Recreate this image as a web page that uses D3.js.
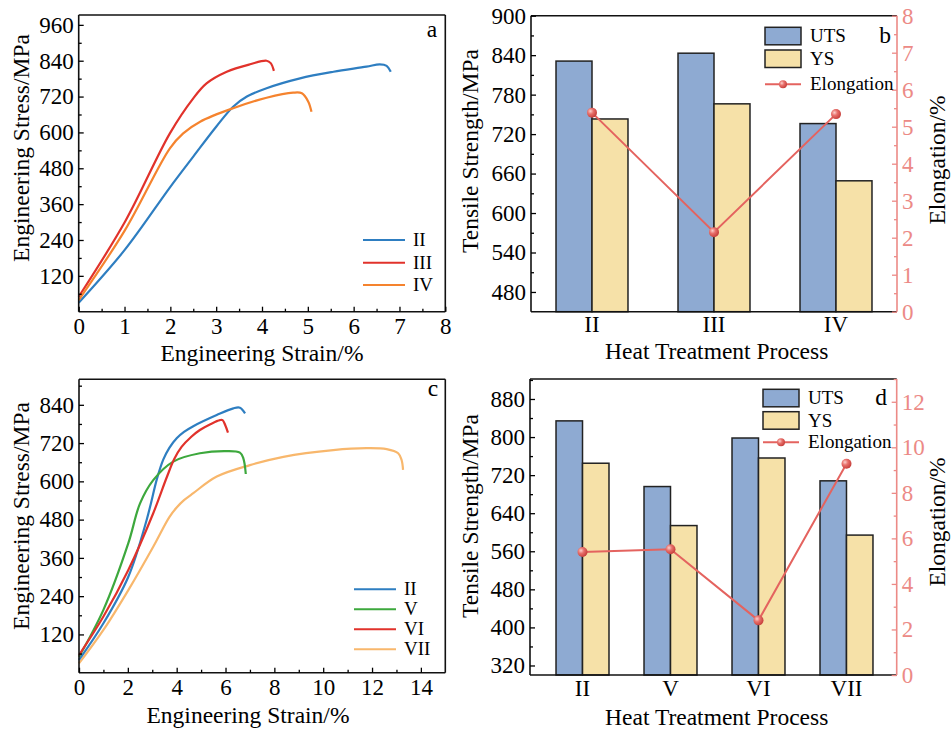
<!DOCTYPE html>
<html><head><meta charset="utf-8">
<script src="https://cdn.jsdelivr.net/npm/d3@7"></script>
<style>
body{margin:0;background:#fff}
svg{display:block}
text{font-family:"Liberation Serif","Times New Roman",serif;fill:#000}
</style></head>
<body>
<svg id="chart" width="952" height="731"></svg>
<script>
// ---------- DATA ----------
// Panel a: stress-strain curves [strain %, stress MPa]
const curveA_II  = [[0,30],[1.0,206],[2.0,418],[2.5,519],[3.0,619],[3.37,686],[3.67,720],[4.1,748],[4.83,781],[5.56,803],[6.28,820],[6.57,828],[6.72,823],[6.81,803]];
const curveA_III = [[0,50],[1.01,301],[1.99,597],[2.5,714],[2.79,764],[3.23,803],[3.74,828],[4.1,840],[4.19,832],[4.26,806]];
const curveA_IV  = [[0,39],[1.01,273],[1.99,547],[2.28,597],[2.65,636],[3.37,681],[4.1,716],[4.68,733],[4.87,731],[5.01,703],[5.08,669]];
const seriesA = ["II","III","IV"];
// Panel c
const curveC_II  = [[0,40],[1.0,155],[2.02,301],[2.77,479],[3.2,610],[3.45,668],[3.7,705],[4.0,735],[4.3,755],[4.68,773],[5.64,808],[6.32,829],[6.59,831],[6.8,813]];
const curveC_V   = [[0,50],[1.0,197],[2.02,406],[2.5,531],[3.04,604],[3.86,662],[4.95,688],[6.04,695],[6.59,690],[6.73,672],[6.83,623]];
const curveC_VI  = [[0,55],[1.0,176],[2.02,322],[3.04,500],[3.59,612],[3.9,670],[4.2,708],[4.6,740],[4.95,761],[5.4,780],[5.77,792],[5.88,792],[5.99,776],[6.1,753]];
const curveC_VII = [[0,29],[1.0,134],[2.02,259],[3.04,395],[3.7,488],[4.0,518],[4.3,541],[4.68,563],[5.64,615],[7.0,651],[8.37,677],[10.41,698],[11.77,704],[12.6,701],[13.07,688],[13.21,667],[13.27,636]];
const seriesC = ["II","V","VI","VII"];
// Panel b
const catsB = ["II","III","IV"];
const utsB = [831,843,736];
const ysB = [743,766,649];
const elongB = [5.38,2.15,5.34];
// Panel d
const catsD = ["II","V","VI","VII"];
const utsD = [834,696,798,708];
const ysD = [745,614,756,594];
const elongD = [5.4,5.52,2.4,9.28];
// Ticks
const ticksAY = [120,240,360,480,600,720,840,960];
const ticksAX = [0,1,2,3,4,5,6,7,8];
const ticksCY = [120,240,360,480,600,720,840];
const ticksCX = [0,2,4,6,8,10,12,14];
const ticksBY = [480,540,600,660,720,780,840,900];
const ticksBR = [0,1,2,3,4,5,6,7,8];
const ticksDY = [320,400,480,560,640,720,800,880];
const ticksDR = [0,2,4,6,8,10,12];

// ---------- STYLE ----------
const colII="#2e7ec1", colIII="#e1322b", colIV="#f5832e", colV="#3da83d", colVI="#e1322b", colVII="#f8b76c";
const colUTS="#8eaad2", colYS="#f6e1a8", colEl="#e4635f", colAxR="#ec8a86";
const FT=23, FTitle=23.5, FLeg=19;

const svg = d3.select("#chart");
const defs = svg.append("defs");
const grad = defs.append("radialGradient").attr("id","ball").attr("cx","35%").attr("cy","35%").attr("r","65%");
grad.append("stop").attr("offset","0%").attr("stop-color","#fbd0cc");
grad.append("stop").attr("offset","45%").attr("stop-color","#e8706b");
grad.append("stop").attr("offset","100%").attr("stop-color","#c9423e");

function frame(g,l,r,t,b,rightColor){
  g.append("line").attr("x1",l).attr("x2",r).attr("y1",t).attr("y2",t).attr("stroke","#111").attr("stroke-width",1.6);
  g.append("line").attr("x1",l).attr("x2",r).attr("y1",b).attr("y2",b).attr("stroke","#111").attr("stroke-width",1.6);
  g.append("line").attr("x1",l).attr("x2",l).attr("y1",t).attr("y2",b).attr("stroke","#111").attr("stroke-width",1.6);
  g.append("line").attr("x1",r).attr("x2",r).attr("y1",t).attr("y2",b).attr("stroke",rightColor||"#111").attr("stroke-width",1.6);
}
function styleAxis(sel,color,fs){
  sel.select(".domain").remove();
  sel.selectAll("line").attr("stroke",color).attr("stroke-width",1.3);
  sel.selectAll("text").style("font-size",fs+"px").style("fill",color).attr("font-family",null);
}
function leftAxis(g,y,x0,ticks,minor){
  const a=g.append("g").attr("transform",`translate(${x0},0)`)
    .call(d3.axisLeft(y).tickValues(ticks).tickSizeInner(-5).tickSizeOuter(0).tickPadding(5));
  styleAxis(a,"#000",FT);
  const m=g.append("g").attr("transform",`translate(${x0},0)`)
    .call(d3.axisLeft(y).tickValues(minor).tickSizeInner(-3).tickSizeOuter(0).tickFormat(""));
  styleAxis(m,"#000",FT);
}
function bottomAxis(g,x,y0,ticks,minor){
  const a=g.append("g").attr("transform",`translate(0,${y0})`)
    .call(d3.axisBottom(x).tickValues(ticks).tickSizeInner(-5).tickSizeOuter(0).tickPadding(6));
  styleAxis(a,"#000",FT);
  const m=g.append("g").attr("transform",`translate(0,${y0})`)
    .call(d3.axisBottom(x).tickValues(minor).tickSizeInner(-3).tickSizeOuter(0).tickFormat(""));
  styleAxis(m,"#000",FT);
}
function rightAxis(g,y,x0,ticks,minor){
  const a=g.append("g").attr("transform",`translate(${x0},0)`)
    .call(d3.axisRight(y).tickValues(ticks).tickSizeInner(-5).tickSizeOuter(0).tickPadding(5));
  styleAxis(a,colAxR,FT);
  const m=g.append("g").attr("transform",`translate(${x0},0)`)
    .call(d3.axisRight(y).tickValues(minor).tickSizeInner(-3).tickSizeOuter(0).tickFormat(""));
  styleAxis(m,colAxR,FT);
}
function rotTitle(g,x,y,txt,color){
  g.append("text").attr("transform",`translate(${x},${y}) rotate(-90)`).attr("text-anchor","middle")
   .style("font-size",FTitle+"px").style("fill",color||"#000").text(txt);
}
function hTitle(g,x,y,txt){
  g.append("text").attr("x",x).attr("y",y).attr("text-anchor","middle").style("font-size",FTitle+"px").text(txt);
}
function range(a,b,s){const r=[];for(let v=a;v<=b+1e-9;v+=s)r.push(+v.toFixed(4));return r;}

// ---------- Panel a ----------
(function(){
  const L=78.7,R=445.3,T=15,B=311.7;
  const g=svg.append("g");
  const x=d3.scaleLinear().domain([0,8]).range([L,R]);
  const y=d3.scaleLinear().domain([0,993]).range([B,T]);
  const line=d3.line().x(d=>x(d[0])).y(d=>y(d[1])).curve(d3.curveCatmullRom.alpha(0.5));
  const data=[curveA_II,curveA_III,curveA_IV], cols=[colII,colIII,colIV];
  data.forEach((d,i)=>g.append("path").attr("d",line(d)).attr("fill","none").attr("stroke",cols[i]).attr("stroke-width",2.2));
  frame(g,L,R,T,B);
  leftAxis(g,y,L,ticksAY,range(60,990,60).filter(v=>v%120!==0));
  bottomAxis(g,x,B,ticksAX,range(0.5,7.5,1));
  hTitle(g,262,361,"Engineering Strain/%");
  rotTitle(g,29,148,"Engineering Stress/MPa");
  g.append("text").attr("x",432).attr("y",37).attr("text-anchor","middle").style("font-size",FTitle+"px").text("a");
  const ly=[240,262.7,285];
  seriesA.forEach((s,i)=>{
    g.append("line").attr("x1",363).attr("x2",405).attr("y1",ly[i]).attr("y2",ly[i]).attr("stroke",cols[i]).attr("stroke-width",2);
    g.append("text").attr("x",413).attr("y",ly[i]+6).style("font-size",FLeg+"px").text(s);
  });
})();

// ---------- Panel c ----------
(function(){
  const L=79,R=445.3,T=379.3,B=672.7;
  const g=svg.append("g");
  const x=d3.scaleLinear().domain([0,15]).range([L,R]);
  const y=d3.scaleLinear().domain([0,920]).range([B,T]);
  const line=d3.line().x(d=>x(d[0])).y(d=>y(d[1])).curve(d3.curveCatmullRom.alpha(0.5));
  const data=[curveC_II,curveC_V,curveC_VI,curveC_VII], cols=[colII,colV,colVI,colVII];
  [3,0,1,2].forEach(i=>g.append("path").attr("d",line(data[i])).attr("fill","none").attr("stroke",cols[i]).attr("stroke-width",2.2));
  frame(g,L,R,T,B);
  leftAxis(g,y,L,ticksCY,range(60,900,60).filter(v=>v%120!==0));
  bottomAxis(g,x,B,ticksCX,range(1,13,2));
  hTitle(g,248,723,"Engineering Strain/%");
  rotTitle(g,29,516,"Engineering Stress/MPa");
  g.append("text").attr("x",433).attr("y",396).attr("text-anchor","middle").style("font-size",FTitle+"px").text("c");
  const ly=[589.3,609.3,629.3,649.3];
  seriesC.forEach((s,i)=>{
    g.append("line").attr("x1",354).attr("x2",396).attr("y1",ly[i]).attr("y2",ly[i]).attr("stroke",cols[i]).attr("stroke-width",2);
    g.append("text").attr("x",404).attr("y",ly[i]+6).style("font-size",FLeg+"px").text(s);
  });
})();

// ---------- Bar panels ----------
function barPanel(o){
  const g=svg.append("g");
  const x0=d3.scaleBand().domain(o.cats).range(o.bandRange).paddingInner(o.pi).paddingOuter(o.po);
  const x1=d3.scaleBand().domain(["UTS","YS"]).range([0,x0.bandwidth()]);
  const y=d3.scaleLinear().domain(o.yDom).range([o.B,o.T]);
  const yr=d3.scaleLinear().domain(o.rDom).range([o.B,o.T]);
  o.cats.forEach((c,i)=>{
    [["UTS",o.uts[i],colUTS],["YS",o.ys[i],colYS]].forEach(([k,v,col])=>{
      g.append("rect").attr("x",x0(c)+x1(k)).attr("width",x1.bandwidth()).attr("y",y(v)).attr("height",o.B-y(v))
       .attr("fill",col).attr("stroke","#222").attr("stroke-width",1.5);
    });
  });
  frame(g,o.L,o.R,o.T,o.B,colAxR);
  leftAxis(g,y,o.L,o.yTicks,o.yMinor);
  rightAxis(g,yr,o.R,o.rTicks,o.rMinor);
  const cx=c=>x0(c)+x0.bandwidth()/2;
  const line=d3.line().x((d,i)=>cx(o.cats[i])).y(d=>yr(d));
  g.append("path").attr("d",line(o.el)).attr("fill","none").attr("stroke",colEl).attr("stroke-width",2);
  o.el.forEach((v,i)=>g.append("circle").attr("cx",cx(o.cats[i])).attr("cy",yr(v)).attr("r",5).attr("fill","url(#ball)"));
  o.cats.forEach(c=>g.append("text").attr("x",cx(c)).attr("y",o.B+20.5).attr("text-anchor","middle").style("font-size",FT+"px").text(c));
  hTitle(g,716.7,o.xtY,"Heat Treatment Process");
  rotTitle(g,478,o.ltY,"Tensile Strength/MPa");
  rotTitle(g,945,o.rtY,"Elongation/%");
  g.append("text").attr("x",o.letX).attr("y",o.letY).attr("text-anchor","middle").style("font-size",FTitle+"px").text(o.letter);
  // legend
  const lx=o.legX;
  g.append("rect").attr("x",lx).attr("y",o.legY[0]).attr("width",36).attr("height",17.5).attr("fill",colUTS).attr("stroke","#222").attr("stroke-width",1.5);
  g.append("rect").attr("x",lx).attr("y",o.legY[1]).attr("width",36).attr("height",17.5).attr("fill",colYS).attr("stroke","#222").attr("stroke-width",1.5);
  g.append("line").attr("x1",lx).attr("x2",lx+36).attr("y1",o.legY[2]).attr("y2",o.legY[2]).attr("stroke",colEl).attr("stroke-width",2);
  g.append("circle").attr("cx",lx+18).attr("cy",o.legY[2]).attr("r",4).attr("fill","url(#ball)");
  [["UTS",o.legY[0]+15],["YS",o.legY[1]+15],["Elongation",o.legY[2]+6]].forEach(([t,yy])=>
    g.append("text").attr("x",lx+45).attr("y",yy).style("font-size",FLeg+"px").text(t));
}

barPanel({cats:catsB,uts:utsB,ys:ysB,el:elongB,L:531,R:897,T:15.7,B:311.7,bandRange:[531,897],pi:0.41,po:0.205,
  yDom:[450,900],rDom:[0,8],yTicks:ticksBY,yMinor:range(510,870,60),rTicks:ticksBR,rMinor:range(0.5,7.5,1),
  xtY:359,ltY:151,rtY:160,letter:"b",letX:885,letY:43,legX:765,legY:[27.3,50,84.3]});
barPanel({cats:catsD,uts:utsD,ys:ysD,el:elongD,L:530,R:896.7,T:379,B:675,bandRange:[532,897],pi:0.398,po:0.273,
  yDom:[300,922],rDom:[0,13],yTicks:ticksDY,yMinor:range(360,920,80),rTicks:ticksDR,rMinor:range(1,13,2),
  xtY:725,ltY:516,rtY:522,letter:"d",letX:881,letY:405,legX:763,legY:[389.3,411.7,442.3]});
</script>
</body></html>
